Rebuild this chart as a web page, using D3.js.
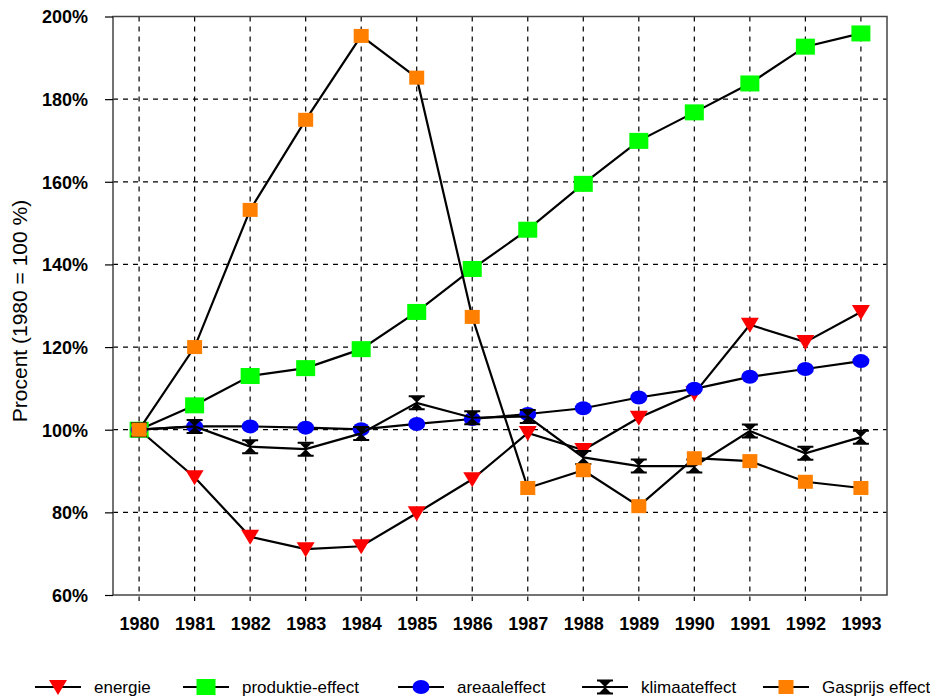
<!DOCTYPE html>
<html>
<head>
<meta charset="utf-8">
<script src="https://cdn.jsdelivr.net/npm/d3@7"></script>
<style>
  html, body { margin: 0; padding: 0; background: #fff; }
  svg { display: block; font-family: "Liberation Sans", Arial, Helvetica, sans-serif; }
</style>
</head>
<body>
<svg id="chart" width="930" height="697"></svg>
<script>
// Years on the x axis
const years = [1980, 1981, 1982, 1983, 1984, 1985, 1986, 1987, 1988, 1989, 1990, 1991, 1992, 1993];
// Y axis ticks (percent, 1980 = 100)
const yTicks = [60, 80, 100, 120, 140, 160, 180, 200];

// Series values, index of 1980 = 100
const energie         = [100, 88.5, 74.1, 71.1, 71.8, 79.8, 88.0, 99.2, 95.1, 102.9, 108.8, 125.4, 121.2, 128.5];
const produktieEffect = [100, 105.9, 113.0, 114.9, 119.5, 128.5, 138.9, 148.4, 159.5, 169.9, 176.8, 183.8, 192.7, 195.9];
const areaalEffect    = [100, 100.8, 100.8, 100.5, 100.1, 101.4, 102.6, 103.8, 105.2, 107.8, 109.9, 112.8, 114.7, 116.6];
const klimaatEffect   = [100, 100.8, 95.9, 95.3, 99.1, 106.5, 102.9, 103.2, 93.3, 91.2, 91.2, 99.7, 94.3, 98.2];
const gasprijsEffect  = [100, 120.0, 153.2, 175.0, 195.3, 185.2, 127.3, 85.9, 90.2, 81.5, 93.1, 92.4, 87.4, 85.9];

const seriesNames = ["energie", "produktie-effect", "areaaleffect", "klimaateffect", "Gasprijs effect"];
const seriesValues = [energie, produktieEffect, areaalEffect, klimaatEffect, gasprijsEffect];
const seriesColors = ["#ff0000", "#00ff00", "#0000ff", "#000000", "#ff8000"];
const seriesShapes = ["triangle", "square", "circle", "hourglass", "smallsquare"];

const yLabel = "Procent (1980 = 100 %)";

const svg = d3.select("#chart");
const plotLeft = 113, plotRight = 887, plotTop = 16.5, plotBottom = 595;

const x = d3.scalePoint().domain(years).range([plotLeft, plotRight]).padding(0.47);
const y = d3.scaleLinear().domain([60, 200]).range([plotBottom, plotTop]);

// Grid: dashed verticals at each year, dashed horizontals at each tick
const grid = svg.append("g").attr("stroke", "#000").attr("stroke-width", 1.2).attr("stroke-dasharray", "5,5");
grid.selectAll("line.v").data(years).join("line").attr("class", "v")
  .attr("x1", d => x(d)).attr("x2", d => x(d))
  .attr("y1", plotTop).attr("y2", plotBottom + 6);
grid.selectAll("line.h").data(yTicks.filter(t => t > 60 && t < 200)).join("line").attr("class", "h")
  .attr("x1", plotLeft).attr("x2", plotRight)
  .attr("y1", d => y(d)).attr("y2", d => y(d));

// Frame
svg.append("rect")
  .attr("x", plotLeft).attr("y", plotTop).attr("width", plotRight - plotLeft).attr("height", plotBottom - plotTop)
  .attr("fill", "none").attr("stroke", "#444").attr("stroke-width", 1.5);

// Y axis
const yAxis = d3.axisLeft(y).tickValues(yTicks).tickSize(8).tickPadding(17).tickFormat(d => d + "%");
const gy = svg.append("g").attr("transform", `translate(${plotLeft},0)`).call(yAxis);
gy.select(".domain").remove();
gy.selectAll(".tick line").attr("stroke", "#000").attr("stroke-width", 1.2);
gy.selectAll(".tick text").attr("fill", "#000").style("font-size", "18px").style("font-weight", "bold")
  .attr("dy", "0.36em");

// X axis labels
const xAxis = d3.axisBottom(x).tickSize(0).tickPadding(22).tickFormat(d3.format("d"));
const gx = svg.append("g").attr("transform", `translate(0,${plotBottom})`).call(xAxis);
gx.select(".domain").remove();
gx.selectAll(".tick text").attr("fill", "#000").style("font-size", "18px").style("font-weight", "bold");

// Y axis title
svg.append("text")
  .attr("transform", `translate(27,311) rotate(-90)`)
  .attr("text-anchor", "middle")
  .style("font-size", "21px")
  .text(yLabel);

// Marker drawing
function drawMarker(g, shape, color) {
  if (shape === "triangle") {
    g.append("path").attr("d", "M-9,-7 L9,-7 L0,8 Z").attr("fill", color);
  } else if (shape === "square") {
    g.append("rect").attr("x", -9.5).attr("y", -8).attr("width", 19).attr("height", 16).attr("fill", color);
  } else if (shape === "smallsquare") {
    g.append("rect").attr("x", -7.5).attr("y", -7).attr("width", 15).attr("height", 14).attr("fill", color);
  } else if (shape === "circle") {
    g.append("ellipse").attr("rx", 8.5).attr("ry", 7).attr("fill", color);
  } else if (shape === "hourglass") {
    g.append("path").attr("d", "M-6,-6 L6,-6 L0,0 L6,6 L-6,6 L0,0 Z").attr("fill", color);
    g.append("path").attr("d", "M-8,-6.5 H8 M-8,6.5 H8").attr("stroke", color).attr("stroke-width", 2);
  }
}

const line = d3.line().x((d, i) => x(years[i])).y(d => y(d));

seriesValues.forEach((vals, si) => {
  const g = svg.append("g");
  g.append("path").datum(vals).attr("d", line)
    .attr("fill", "none").attr("stroke", "#000").attr("stroke-width", 2.2);
  vals.forEach((v, i) => {
    const m = g.append("g").attr("transform", `translate(${x(years[i])},${y(v)})`);
    drawMarker(m, seriesShapes[si], seriesColors[si]);
  });
});

// Legend
const legendX = [58, 206, 421, 605, 786];
const legendY = 687;
seriesNames.forEach((name, i) => {
  const g = svg.append("g").attr("transform", `translate(${legendX[i]},${legendY})`);
  g.append("line").attr("x1", -23).attr("x2", 23).attr("stroke", "#000").attr("stroke-width", 2.2);
  drawMarker(g, seriesShapes[i], seriesColors[i]);
  g.append("text").attr("x", 36).attr("dy", "0.36em").style("font-size", "17px").text(name);
});
</script>
</body>
</html>
